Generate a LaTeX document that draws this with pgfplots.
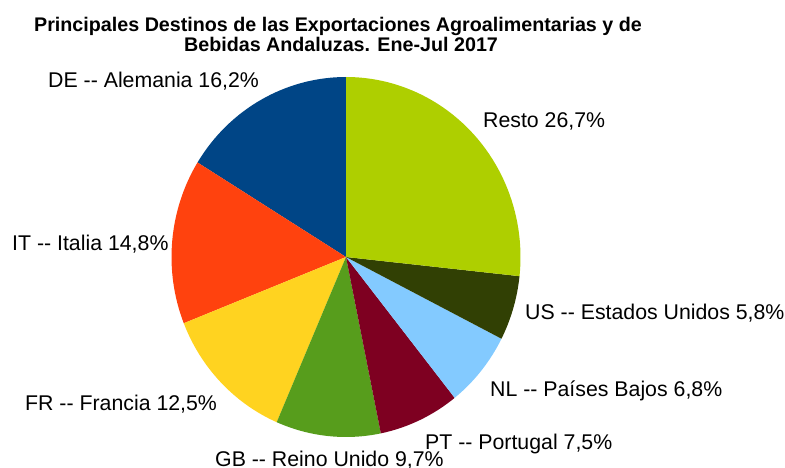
\documentclass[border=0pt]{standalone}
\usepackage{fontspec}
\setmainfont{Liberation Sans}[Ligatures=TeXOff]
\usepackage{pgfplots}
\usepackage{pgfplotstable}
\pgfplotsset{compat=1.18}
\definecolor{cDE}{HTML}{004586}
\definecolor{cIT}{HTML}{FF420E}
\definecolor{cFR}{HTML}{FFD320}
\definecolor{cGB}{HTML}{579D1C}
\definecolor{cPT}{HTML}{7E0021}
\definecolor{cNL}{HTML}{83CAFF}
\definecolor{cUS}{HTML}{314004}
\definecolor{cRe}{HTML}{AECF00}
\pgfplotstableread{
pct color
16.2 cDE
14.8 cIT
12.5 cFR
9.7 cGB
7.5 cPT
6.8 cNL
5.8 cUS
26.7 cRe
}\piedata
\newcommand\labfont{\fontsize{21.3}{25}\selectfont}
\newcommand\titfont{\fontsize{19.7}{23}\selectfont\bfseries}
\begin{document}
\begin{tikzpicture}
\path[use as bounding box] (0,0) rectangle (785pt,468pt);
\begin{axis}[at={(0,0)}, anchor=south west, scale only axis, width=785pt, height=468pt,
  xmin=0, xmax=785, ymin=0, ymax=468, y dir=reverse, hide axis, clip=false]
\def\start{90}
\pgfplotsforeachungrouped \i in {0,...,7}{%
  \pgfplotstablegetelem{\i}{pct}\of\piedata \let\p\pgfplotsretval
  \pgfplotstablegetelem{\i}{color}\of\piedata \let\c\pgfplotsretval
  \pgfmathsetmacro{\stop}{\start+3.6*\p}%
  \edef\temp{\noexpand\fill[\c] (axis cs:346,257) -- ++(\start:174.5pt and 180pt) arc[start angle=\start, end angle=\stop, x radius=174.5pt, y radius=180pt] -- cycle;}%
  \temp
  \global\let\start\stop
}
\node[anchor=base, font=\titfont, inner sep=0pt] at (axis cs:338,32) {Principales Destinos de las Exportaciones Agroalimentarias y de};
\node[anchor=base, font=\titfont, inner sep=0pt] at (axis cs:341,52) {Bebidas Andaluzas. Ene-Jul 2017};
\node[anchor=base west, font=\labfont, inner sep=0pt] at (axis cs:48,88) {DE -- Alemania 16,2\%};
\node[anchor=base west, font=\labfont, inner sep=0pt] at (axis cs:483,128) {Resto 26,7\%};
\node[anchor=base west, font=\labfont, inner sep=0pt] at (axis cs:12,250) {IT -- Italia 14,8\%};
\node[anchor=base west, font=\labfont, inner sep=0pt] at (axis cs:525,319) {US -- Estados Unidos 5,8\%};
\node[anchor=base west, font=\labfont, inner sep=0pt] at (axis cs:490,396) {NL -- Países Bajos 6,8\%};
\node[anchor=base west, font=\labfont, inner sep=0pt] at (axis cs:25,410) {FR -- Francia 12,5\%};
\node[anchor=base west, font=\labfont, inner sep=0pt] at (axis cs:425,449) {PT -- Portugal 7,5\%};
\node[anchor=base west, font=\labfont, inner sep=0pt] at (axis cs:215,466) {GB -- Reino Unido 9,7\%};
\end{axis}
\end{tikzpicture}
\end{document}
